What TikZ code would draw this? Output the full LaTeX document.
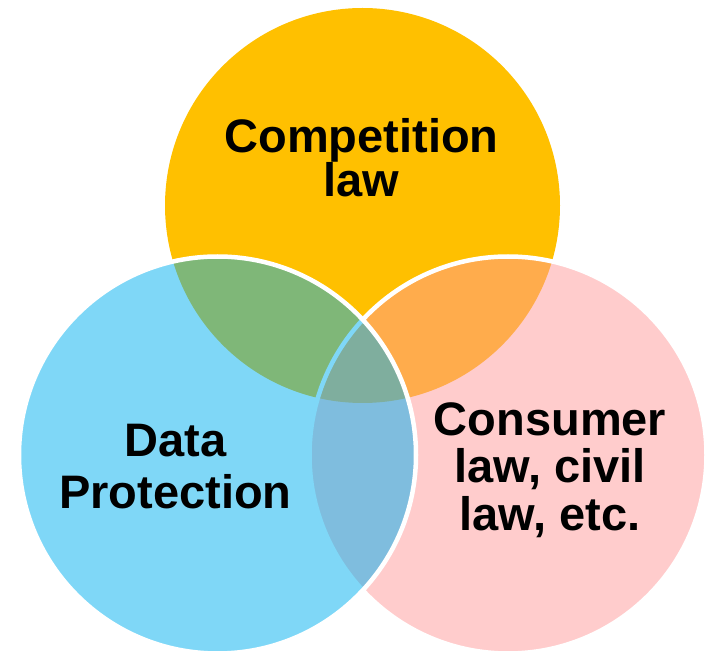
\documentclass[tikz,border=0pt]{standalone}
\usepackage{fontspec}
\setmainfont{Liberation Sans}
\definecolor{gold}{HTML}{FFC000}
\definecolor{skyblue}{HTML}{00B0F0}
\definecolor{rosepink}{HTML}{FF9999}
\tikzset{
  setcircle/.style={draw=white, line width=4.5pt, fill opacity=0.5, draw opacity=1},
  label/.style={inner sep=0pt, align=center, text=black, font=\bfseries}
}
\begin{document}
\begin{tikzpicture}[x=1pt,y=-1pt]
\useasboundingbox (0,0) rectangle (705,652);
% top circle
\fill[gold] (362.5,205.5) circle[radius=197.5];
% right circle
\path[setcircle, fill=rosepink] (508,455) circle[radius=198.5];
% left circle
\path[setcircle, fill=skyblue] (217.5,455) circle[radius=198.5];
% labels (base anchor = baseline of the last line)
\node[label, anchor=base, font=\bfseries\fontsize{47}{42}\selectfont] (comp) at (361.5,197) {Competition\\law};
\node[label, anchor=base, font=\bfseries\fontsize{47}{52}\selectfont] (data) at (175.5,509) {Data\\Protection};
\node[label, anchor=base, font=\bfseries\fontsize{47}{47.5}\selectfont] (cons) at (550,530) {Consumer\\law, civil\\law, etc.};
\end{tikzpicture}
\end{document}
